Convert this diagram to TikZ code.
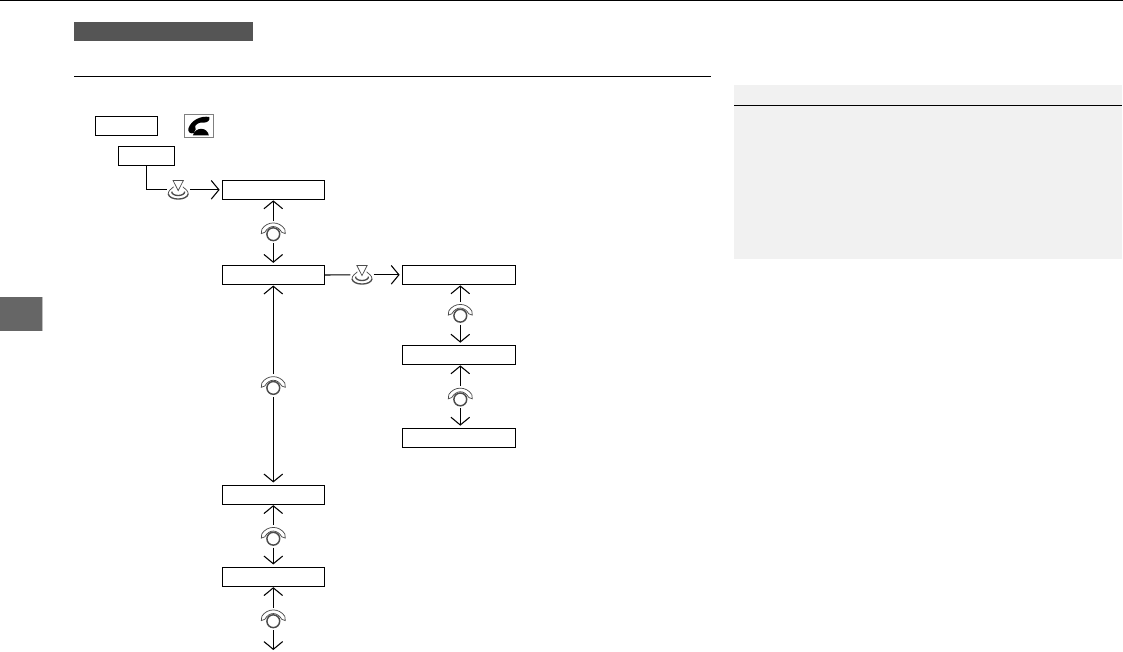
\documentclass[tikz,border=0pt]{standalone}
\usetikzlibrary{arrows.meta}
\definecolor{barcol}{HTML}{555555}
\definecolor{tabcol}{HTML}{666666}
\definecolor{sidecol}{HTML}{F1F1F1}
\definecolor{iconcol}{HTML}{4C4C4C}
\tikzset{
  flowbox/.style={draw=black,line width=0.8pt,rectangle,inner sep=0pt,minimum height=14.2pt,fill=white},
  wide/.style={minimum width=76.5pt},
  wider/.style={minimum width=84.75pt},
  conn/.style={line width=0.8pt,draw=black},
  arr/.style={conn,-{Straight Barb[length=5.8pt,width=14pt,line width=0.8pt]},shorten >=1.6pt},
  arrup/.style={arr,shorten >=0.4pt},
  dialicon/.style={inner sep=0pt,minimum width=19pt,minimum height=16.5pt,
    path picture={
      \begin{scope}[shift={(path picture bounding box.center)}]
        \draw[iconcol,line width=1.1pt,fill=white] (0,2.4) circle (6.4);
        \draw[iconcol,line width=0.55pt] (-11.5,-2.5) .. controls (-6,-11) and (6,-11) .. (11.5,-2.5);
        \draw[iconcol,line width=0.55pt] (-8.5,0.5) .. controls (-4,-7.2) and (4,-7.2) .. (8.5,0.5);
        \draw[iconcol,line width=0.55pt] (-11.5,-2.5) -- (-12,1.8) -- (-8.5,0.5);
        \draw[iconcol,line width=0.55pt] (11.5,-2.5) -- (12,1.8) -- (8.5,0.5);
      \end{scope}
    }},
  pushicon/.style={inner sep=0pt,minimum width=17pt,minimum height=15pt,
    path picture={
      \begin{scope}[shift={(path picture bounding box.center)}]
        \draw[iconcol,line width=0.55pt] (-5.2,-9.4) -- (5.2,-9.4) -- (0,0.8) -- cycle;
        \draw[iconcol,line width=0.55pt] (-4.6,-3) .. controls (-7,-1) and (-10,1) .. (-10,4);
        \draw[iconcol,line width=0.55pt] (4.6,-3) .. controls (7,-1) and (10,1) .. (10,4);
        \draw[iconcol,line width=1pt] (-6.5,1.8) .. controls (-6.5,7) and (6.5,7) .. (6.5,1.8);
        \draw[iconcol,line width=1pt] (-10,4) .. controls (-9,11) and (9,11) .. (10,4);
      \end{scope}
    }},
  phonebox/.style={draw=gray,line width=0.6pt,rectangle,inner sep=0pt,minimum width=21.5pt,minimum height=17.5pt,
    path picture={
      \begin{scope}[shift={(path picture bounding box.center)}]
        \fill[black] (10.5,-8.8) .. controls (2,-10.4) and (-8,-5.5) .. (-10.5,3)
          .. controls (-11,6.5) and (-8,8.4) .. (-5,7.2)
          .. controls (-3,5) and (-2.6,2.5) .. (-3.6,0.2)
          .. controls (-1.5,-2.6) and (1.5,-3.8) .. (5,-3.2)
          .. controls (8.5,-3) and (11.8,-5.8) .. (10.5,-8.8) -- cycle;
        \fill[black] (-6,9.6) .. controls (-4.5,5) and (-1,3) .. (2.5,3)
          .. controls (6.5,3) and (9.5,6) .. (10,9.6) -- cycle;
      \end{scope}
    }}
}
\begin{document}
\begin{tikzpicture}[x=0.75pt,y=-0.75pt]
\useasboundingbox (0,0) rectangle (1123,651);
% page furniture
\draw[line width=1pt] (0,0.5) -- (1123,0.5);
\fill[barcol] (74,22) rectangle (253,41);
\draw[line width=0.65pt] (74,76.5) -- (711,76.5);
\fill[sidecol] (734,85) rectangle (1122,259);
\draw[line width=0.65pt] (734,105.5) -- (1122,105.5);
\fill[tabcol] (0,297) rectangle (42,331);
\fill[gray!50] (42,297) rectangle (43,331);
% top row
\node[flowbox,minimum width=46.5pt] (a) at (126.3,125.8) {};
\node[phonebox] (ph) at (198.8,125.8) {};
\node[flowbox,minimum width=42pt] (b) at (146.3,155.6) {};
% boxes
\node[flowbox,wide] (c) at (273.3,189.8) {};
\node[flowbox,wide] (d) at (273.3,275) {};
\node[flowbox,wider] (e) at (458.8,274.8) {};
\node[flowbox,wider] (f) at (458.8,354.8) {};
\node[flowbox,wider] (g) at (458.8,437.8) {};
\node[flowbox,wide] (h) at (273.3,494.6) {};
\node[flowbox,wide] (i) at (273.3,576.6) {};
\coordinate (endpt) at (273.3,650);
% icons
\node[pushicon] (p1) at (178.2,189.8) {};
\node[pushicon] (p2) at (362,274.8) {};
\node[dialicon] (d1) at (273.3,231.8) {};
\node[dialicon] (d2) at (273.3,385.5) {};
\node[dialicon] (d3) at (273.3,536.3) {};
\node[dialicon] (d4) at (273.3,618.8) {};
\node[dialicon] (d5) at (460.3,313.3) {};
\node[dialicon] (d6) at (460.3,397) {};
% connectors
\draw[conn] (b.south) |- (p1.west);
\draw[arr] (p1.east) -- (c.west);
\draw[conn] (d.east) -- (p2.west);
\draw[arr] (p2.east) -- (e.west);
\foreach \ic/\up/\dn in {d1/c/d,d2/d/h,d3/h/i}{
  \draw[arrup] (\ic.north) -- (\up.south);
  \draw[arr] (\ic.south) -- (\dn.north);
}
\draw[arrup] (d4.north) -- (i.south);
\draw[arr,shorten >=0pt] (d4.south) -- (endpt);
\draw[arrup] (d5.north) -- (d5.north |- e.south);
\draw[arr] (d5.south) -- (d5.south |- f.north);
\draw[arrup] (d6.north) -- (d6.north |- f.south);
\draw[arr] (d6.south) -- (d6.south |- g.north);
\end{tikzpicture}
\end{document}
